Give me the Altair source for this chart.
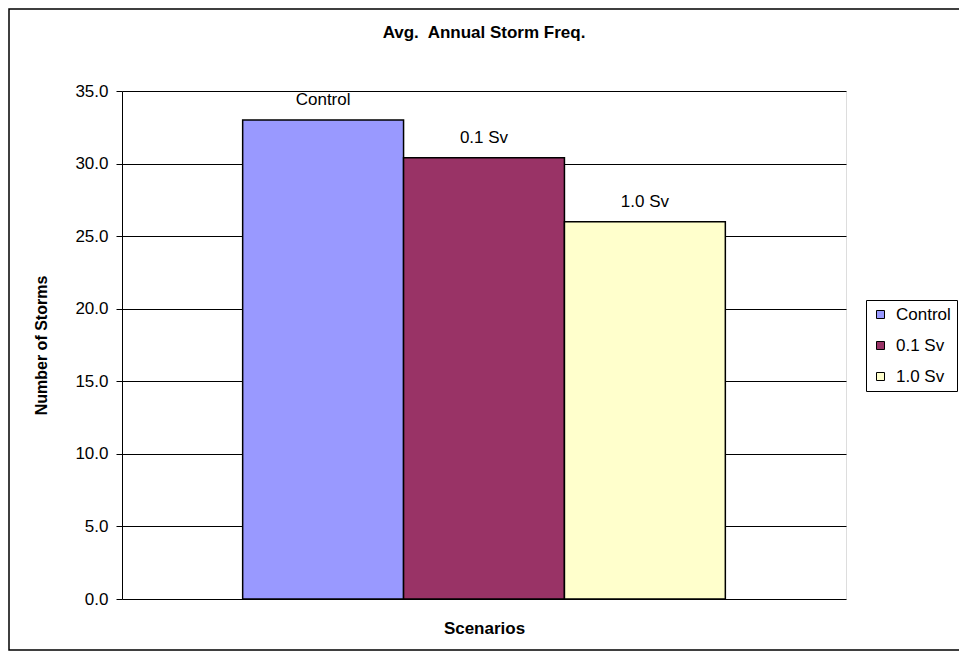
import altair as alt
import pandas as pd

scenarios = ["Control", "0.1 Sv", "1.0 Sv"]
storms = [33.0, 30.4, 26.0]
colors = ["#9999FF", "#993366", "#FFFFCC"]
y_ticks = [0, 5, 10, 15, 20, 25, 30, 35]

df = pd.DataFrame({"scenario": scenarios, "storms": storms})

FONT = "Liberation Sans"
W, H = 724, 508
PAD = {"left": 114, "top": 83, "right": 113, "bottom": 53}

x_enc = alt.X(
    "scenario:N",
    sort=scenarios,
    scale=alt.Scale(paddingInner=0, paddingOuter=0.75),
    axis=alt.Axis(
        title="Scenarios", labels=False, ticks=False, domain=False,
        titleFont=FONT, titleFontSize=17, titleFontWeight="bold",
        titleColor="black", titlePadding=21,
    ),
)
y_enc = alt.Y(
    "storms:Q",
    scale=alt.Scale(domain=[0, 35], nice=False),
    axis=alt.Axis(
        title="Number of Storms", values=y_ticks, format=".1f",
        labelFont=FONT, labelFontSize=17, labelColor="black", labelPadding=8,
        tickColor="black", tickSize=6, domainColor="black", domainWidth=1,
        gridColor="black", gridWidth=1, gridOpacity=1,
        titleFont=FONT, titleFontSize=16, titleFontWeight="bold",
        titleColor="black", titlePadding=25,
    ),
)

bars = alt.Chart(df).mark_bar(stroke="black", strokeWidth=1.5).encode(
    x=x_enc,
    y=y_enc,
    color=alt.Color(
        "scenario:N",
        sort=scenarios,
        scale=alt.Scale(domain=scenarios, range=colors),
        legend=alt.Legend(
            title=None, orient="none", legendX=744, legendY=209,
            symbolType="square", symbolSize=64, symbolStrokeColor="black",
            symbolStrokeWidth=1, symbolOpacity=1,
            labelFont=FONT, labelFontSize=17, labelColor="black",
            labelOffset=7, rowPadding=13, padding=6,
            strokeColor="black", fillColor="white",
        ),
    ),
)

labels = alt.Chart(df).mark_text(
    font=FONT, fontSize=17, color="black", baseline="alphabetic", dy=-15
).encode(
    x=alt.X("scenario:N", sort=scenarios),
    y="storms:Q",
    text="scenario:N",
)

frame = alt.Chart(alt.Data(values=[{"f": 1}])).mark_rect(
    filled=False, stroke="black", strokeWidth=1.5
).encode(
    x=alt.value(-113), x2=alt.value(W + PAD["right"] + 10),
    y=alt.value(-82), y2=alt.value(H + PAD["bottom"] - 2),
)

chart = (
    alt.layer(bars, labels, frame)
    .properties(
        width=W, height=H,
        padding=PAD,
        autosize=alt.AutoSizeParams(type="none"),
        title=alt.TitleParams(
            "Avg.\u00a0 Annual Storm Freq.", font=FONT, fontSize=17,
            fontWeight="bold", color="black", offset=-51, baseline="bottom",
            anchor="middle", frame="group",
        ),
    )
    .configure_view(fill="#C0C0C0", stroke="#808080", strokeWidth=2)
    .configure(background="white")
)

chart.save("out.html", embed_options={"renderer": "svg", "actions": False})
